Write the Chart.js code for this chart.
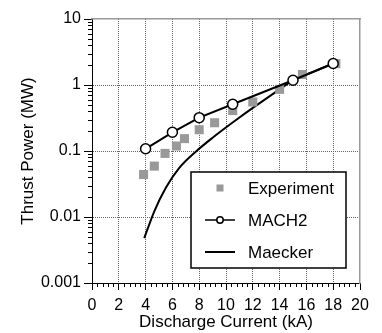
<!DOCTYPE html>
<html>
<head>
<meta charset="utf-8">
<script src="https://cdn.jsdelivr.net/npm/chart.js@4.4.1/dist/chart.umd.min.js"></script>
<style>
  html, body { margin: 0; padding: 0; background: #fff; }
  canvas { display: block; }
</style>
</head>
<body>
<canvas id="chart" width="382" height="333"></canvas>
<script>
// values
const experimentX = [3.85, 4.65, 5.45, 6.3, 6.9, 8.0, 9.15, 10.5, 12.0, 14.0, 15.7, 18.2];
const experimentY = [0.044, 0.059, 0.092, 0.119, 0.154, 0.21, 0.268, 0.41, 0.553, 0.86, 1.44, 2.11];

const mach2X = [4, 6, 8, 10.5, 15, 18];
const mach2Y = [0.108, 0.192, 0.32, 0.51, 1.18, 2.12];

const maeckerX = [3.9, 4.65, 5.5, 6.5, 7.8, 9.0, 10.8, 12.0, 14.0, 15.0, 16.5, 18];
const maeckerY = [0.0048, 0.0122, 0.0275, 0.055, 0.1, 0.159, 0.30, 0.45, 0.86, 1.18, 1.58, 2.12];

const xTicks = [0, 2, 4, 6, 8, 10, 12, 14, 16, 18, 20];
const yTicks = [0.001, 0.01, 0.1, 1, 10];
const yTickLabels = ['0.001', '0.01', '0.1', '1', '10'];

const legendNames = ['Experiment', 'MACH2', 'Maecker'];

const toPoints = (xs, ys) => xs.map((x, i) => ({ x: x, y: ys[i] }));

Chart.defaults.font.family = '"Liberation Sans", Arial, sans-serif';
Chart.defaults.color = '#000';

// minor ticks + legend box
const decorations = {
  id: 'decorations',
  afterDraw(chart) {
    const ctx = chart.ctx;
    const xs = chart.scales.x;
    const ys = chart.scales.y;
    const area = chart.chartArea;
    ctx.save();
    ctx.strokeStyle = '#000';
    ctx.lineWidth = 1;
    ctx.beginPath();
    for (let v = 0; v <= 20.001; v += 0.4) {
      if (Math.abs(v / 2 - Math.round(v / 2)) < 0.01) continue;
      const px = Math.round(xs.getPixelForValue(v)) + 0.5;
      ctx.moveTo(px, area.bottom);
      ctx.lineTo(px, area.bottom + 4);
    }
    for (let d = -3; d <= 0; d++) {
      for (let m = 2; m <= 9; m++) {
        const py = Math.round(ys.getPixelForValue(m * Math.pow(10, d))) + 0.5;
        ctx.moveTo(area.left - 4, py);
        ctx.lineTo(area.left, py);
      }
    }
    ctx.stroke();

    // legend
    ctx.fillStyle = '#fff';
    ctx.fillRect(191, 172, 155, 96);
    ctx.lineWidth = 1.5;
    ctx.strokeRect(191, 172, 155, 96);

    const rowY = [188, 220, 252];
    ctx.fillStyle = '#999999';
    ctx.fillRect(216.5, rowY[0] - 3.5, 7, 7);

    ctx.lineWidth = 1.5;
    ctx.beginPath();
    ctx.moveTo(205, rowY[1]);
    ctx.lineTo(235, rowY[1]);
    ctx.stroke();
    ctx.beginPath();
    ctx.arc(220, rowY[1], 3.2, 0, Math.PI * 2);
    ctx.fillStyle = '#fff';
    ctx.fill();
    ctx.stroke();

    ctx.lineWidth = 2;
    ctx.beginPath();
    ctx.moveTo(205, rowY[2]);
    ctx.lineTo(235, rowY[2]);
    ctx.stroke();

    ctx.fillStyle = '#000';
    ctx.font = '17px "Liberation Sans", Arial, sans-serif';
    ctx.textBaseline = 'middle';
    ctx.textAlign = 'left';
    legendNames.forEach((name, i) => ctx.fillText(name, 248, rowY[i] + 1));
    ctx.restore();
  }
};

const gridColor = (edgeValues) => (c) => {
  if (!c.tick) return 'rgba(0,0,0,0)';
  return edgeValues.includes(c.tick.value) ? 'rgba(0,0,0,0)' : '#666666';
};

new Chart(document.getElementById('chart'), {
  type: 'scatter',
  data: {
    datasets: [
      {
        label: 'MACH2',
        data: toPoints(mach2X, mach2Y),
        showLine: true,
        borderColor: '#000',
        borderWidth: 2,
        pointStyle: 'circle',
        pointRadius: 5,
        pointBorderWidth: 1.5,
        pointBackgroundColor: '#fff',
        pointBorderColor: '#000',
        order: 0
      },
      {
        label: 'Experiment',
        data: toPoints(experimentX, experimentY),
        showLine: false,
        pointStyle: 'rect',
        pointRadius: 6.4,
        pointBorderWidth: 0,
        pointBackgroundColor: '#999999',
        pointBorderColor: '#999999',
        order: 1
      },
      {
        label: 'Maecker',
        data: toPoints(maeckerX, maeckerY),
        showLine: true,
        borderColor: '#000',
        borderWidth: 2,
        pointRadius: 0,
        cubicInterpolationMode: 'monotone',
        order: 2
      }
    ]
  },
  options: {
    responsive: false,
    animation: false,
    layout: { padding: 0 },
    plugins: {
      legend: { display: false },
      tooltip: { enabled: false }
    },
    scales: {
      x: {
        type: 'linear',
        position: 'bottom',
        min: 0,
        max: 20,
        afterBuildTicks: (scale) => { scale.ticks = xTicks.map(v => ({ value: v })); },
        afterFit: (scale) => { scale.height = 50; },
        ticks: {
          font: { size: 16 },
          padding: 6,
          maxRotation: 0,
          callback: (v) => String(v)
        },
        grid: {
          color: gridColor([0, 20]),
          tickColor: '#000',
          tickLength: 7,
          lineWidth: 1
        },
        border: { color: '#000', width: 1, dash: [1, 1] },
        title: {
          display: true,
          text: 'Discharge Current (kA)',
          font: { size: 17 },
          padding: { top: 0, bottom: 0 }
        }
      },
      y: {
        type: 'logarithmic',
        position: 'left',
        min: 0.001,
        max: 10,
        afterBuildTicks: (scale) => { scale.ticks = yTicks.map(v => ({ value: v })); },
        afterFit: (scale) => { scale.width = 92; },
        ticks: {
          font: { size: 16 },
          padding: 3,
          callback: (v) => {
            const i = yTicks.findIndex(t => Math.abs(t - v) < t * 1e-6);
            return i >= 0 ? yTickLabels[i] : '';
          }
        },
        grid: {
          color: gridColor([0.001, 10]),
          tickColor: '#000',
          tickLength: 8,
          lineWidth: 1
        },
        border: { color: '#000', width: 1, dash: [1, 1] },
        title: {
          display: true,
          text: 'Thrust Power (MW)',
          font: { size: 17 },
          padding: { top: 18, bottom: 0 }
        }
      },
      x2: {
        type: 'linear',
        position: 'top',
        min: 0,
        max: 20,
        ticks: { display: false },
        grid: { display: false, drawTicks: false },
        border: { color: '#9a9a9a', width: 1.5 },
        afterFit: (scale) => { scale.height = 19; }
      },
      y2: {
        type: 'linear',
        position: 'right',
        min: 0,
        max: 1,
        ticks: { display: false },
        grid: { display: false, drawTicks: false },
        border: { color: '#9a9a9a', width: 1.5 },
        afterFit: (scale) => { scale.width = 22; }
      }
    }
  },
  plugins: [decorations]
});
</script>
</body>
</html>
